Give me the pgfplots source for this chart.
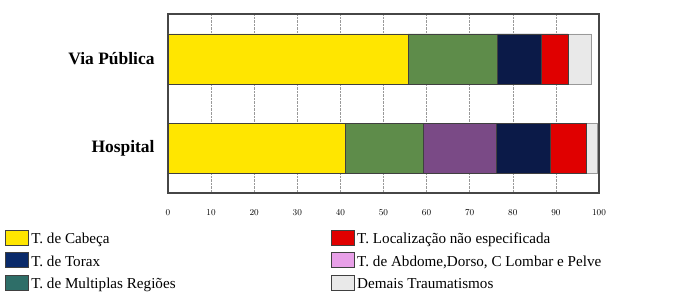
\documentclass[border=0pt]{standalone}
\usepackage{pgfplots}
\pgfplotsset{compat=1.18}
\usepackage{fontspec}
\setmainfont{Liberation Serif}
\definecolor{cyel}{HTML}{FFE600}
\definecolor{cgrn}{HTML}{5E8C4A}
\definecolor{cpur}{HTML}{7A4A86}
\definecolor{cnav}{HTML}{0B1A48}
\definecolor{cred}{HTML}{E00000}
\definecolor{cgry}{HTML}{E9E9E9}
\definecolor{lteal}{HTML}{2E6E68}
\definecolor{lnav}{HTML}{0A2A6A}
\definecolor{lpink}{HTML}{E8A0E8}
\begin{document}
\begin{tikzpicture}
\path[use as bounding box] (0,0) rectangle (694bp,-299bp);
\begin{axis}[
  at={(168bp,-14bp)}, anchor=north west,
  scale only axis, width=431bp, height=179bp,
  xbar stacked, bar width=50bp,
  xmin=0, xmax=100, ymin=-0.5, ymax=1.5,
  ytick={0,1}, yticklabels={Hospital,Via Pública},
  xtick={0,10,...,100},
  xmajorgrids, major grid style={densely dotted, gray!80, line width=0.6pt},
  major tick length=0,
  axis line style={gray!55!black, line width=1.3pt},
  xticklabel style={font=\fontsize{9}{10}\selectfont, yshift=-13bp},
  yticklabel style={font=\bfseries\fontsize{17.5}{19}\selectfont, xshift=-10bp},
  legend image code/.code={\draw[#1] (0bp,-6bp) rectangle (23bp,9bp);},
  legend columns=2,
  legend style={at={(-0.378,-0.205)}, anchor=north west, draw=none, fill=none,
    font=\fontsize{15.2}{17}\selectfont, row sep=5bp, inner sep=0pt},
  legend cell align=left,
]
\addlegendimage{fill=cyel, draw=black!75, line width=1pt}
\addlegendentry{\makebox[298bp][l]{T. de Cabeça}}
\addlegendimage{fill=cred, draw=black!75, line width=1pt}
\addlegendentry{T. Localização não especificada}
\addlegendimage{fill=lnav, draw=black!75, line width=1pt}
\addlegendentry{\makebox[298bp][l]{T. de Torax}}
\addlegendimage{fill=lpink, draw=black!75, line width=1pt}
\addlegendentry{T. de Abdome,Dorso, C Lombar e Pelve}
\addlegendimage{fill=lteal, draw=black!75, line width=1pt}
\addlegendentry{\makebox[298bp][l]{T. de Multiplas Regiões}}
\addlegendimage{fill=cgry, draw=black!75, line width=1pt}
\addlegendentry{Demais Traumatismos}
\addplot[fill=cyel, draw=black!75, forget plot] coordinates {(41.1,0) (55.7,1)};
\addplot[fill=cgrn, draw=black!75, forget plot] coordinates {(18.1,0) (20.6,1)};
\addplot[fill=cpur, draw=black!75, forget plot] coordinates {(16.9,0) (0,1)};
\addplot[fill=cnav, draw=black!75, forget plot] coordinates {(12.5,0) (10.4,1)};
\addplot[fill=cred, draw=black!75, forget plot] coordinates {(8.4,0) (6.1,1)};
\addplot[fill=cgry, draw=black!40, forget plot] coordinates {(2.5,0) (5.5,1)};
\end{axis}
\end{tikzpicture}
\end{document}
